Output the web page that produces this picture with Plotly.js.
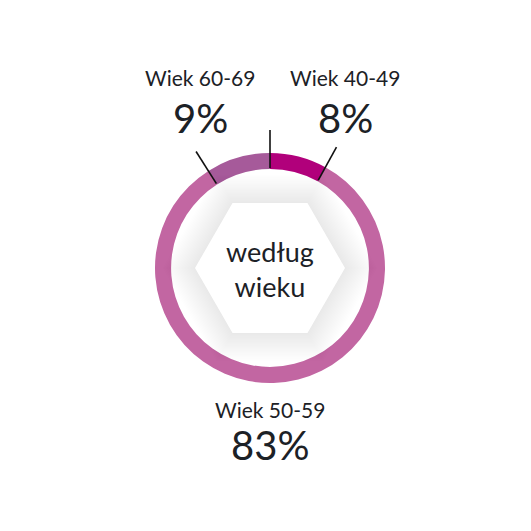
<!DOCTYPE html>
<html>
<head>
<meta charset="utf-8">
<script src="https://cdn.plot.ly/plotly-3.0.1.min.js"></script>
<style>
  html, body { margin: 0; padding: 0; background: #fff; }
  #plot { width: 531px; height: 531px; }
</style>
</head>
<body>
<div id="plot"></div>
<script>
// data (clockwise from 12 o'clock)
const labels = ['Wiek 40-49', 'Wiek 50-59', 'Wiek 60-69']
const values = [8, 83, 9]
const colors = ['#b1007b', '#c266a2', '#a65a9a']
const centerText = 'według<br>wieku'

const W = 531, H = 531
const cx = 270, cy = 268, rOut = 115
const px = x => x / W
const py = y => 1 - y / H
const textColor = '#1c2126'
const fontFam = 'Lato, "Open Sans", sans-serif'

// hexagon path around the centre (flat top)
function hexPath (r) {
  let d = ''
  for (let i = 0; i < 6; i++) {
    const a = Math.PI / 3 * i
    const x = px(cx + r * Math.cos(a)), y = py(cy + r * Math.sin(a))
    d += (i === 0 ? 'M' : 'L') + x + ',' + y
  }
  return d + 'Z'
}

const shapes = []
// soft shadow: stacked translucent hexagons
for (let i = 22; i >= 1; i--) {
  shapes.push({
    type: 'path', xref: 'paper', yref: 'paper', layer: 'above',
    path: hexPath(75 + i * 1.5), fillcolor: 'rgba(0,0,0,0.005)', line: { width: 0 }
  })
}
shapes.push({
  type: 'path', xref: 'paper', yref: 'paper', layer: 'above',
  path: hexPath(75), fillcolor: '#ffffff', line: { width: 0 }
})

// leader ticks at slice boundaries
const total = values.reduce((a, b) => a + b, 0)
const bounds = [0, values[0] / total * 360, -values[values.length - 1] / total * 360]
bounds.forEach(deg => {
  const a = deg * Math.PI / 180
  shapes.push({
    type: 'line', xref: 'paper', yref: 'paper', layer: 'above',
    x0: px(cx + 100 * Math.sin(a)), y0: py(cy - 100 * Math.cos(a)),
    x1: px(cx + 138 * Math.sin(a)), y1: py(cy - 138 * Math.cos(a)),
    line: { color: '#111111', width: 1.6 }
  })
})

// label positions (pixels)
const labelPos = [[345, 'top'], [270, 'bottom'], [200, 'top']]
const annotations = []
labels.forEach((lab, i) => {
  const [x, where] = labelPos[i]
  const yLab = where === 'top' ? 78 : 409
  const yPct = where === 'top' ? 118 : 445
  annotations.push({
    xref: 'paper', yref: 'paper', x: px(x), y: py(yLab), showarrow: false,
    xanchor: 'center', yanchor: 'middle',
    text: lab, font: { family: fontFam, size: 21, color: textColor }
  })
  annotations.push({
    xref: 'paper', yref: 'paper', x: px(x), y: py(yPct), showarrow: false,
    xanchor: 'center', yanchor: 'middle',
    text: Math.round(values[i] / total * 100) + '%',
    font: { family: fontFam, size: 40, color: textColor }
  })
})
annotations.push({
  xref: 'paper', yref: 'paper', x: px(cx), y: py(cy + 1), showarrow: false,
  xanchor: 'center', yanchor: 'middle',
  text: centerText, font: { family: fontFam, size: 27, color: textColor }
})

const data = [{
  type: 'pie', labels: labels, values: values,
  marker: { colors: colors, line: { width: 0 } },
  hole: 0.86, sort: false, direction: 'clockwise', rotation: 0,
  textinfo: 'none', hoverinfo: 'none', showlegend: false,
  domain: { x: [px(cx - rOut), px(cx + rOut)], y: [py(cy + rOut), py(cy - rOut)] }
}]

const layout = {
  width: W, height: H,
  margin: { l: 0, r: 0, t: 0, b: 0 },
  paper_bgcolor: '#ffffff', plot_bgcolor: '#ffffff',
  shapes: shapes, annotations: annotations
}

Plotly.newPlot('plot', data, layout, { displayModeBar: false, staticPlot: true })
</script>
</body>
</html>
